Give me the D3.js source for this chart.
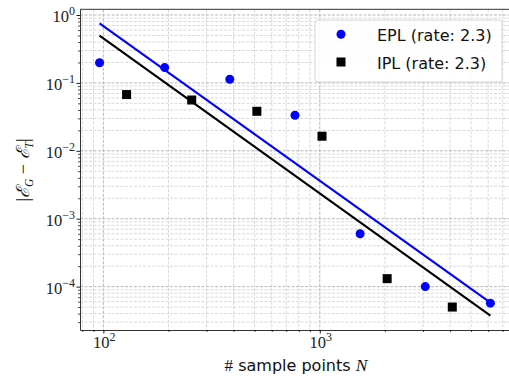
<!DOCTYPE html>
<html>
<head>
<meta charset="utf-8">
<script src="https://cdn.jsdelivr.net/npm/d3@7"></script>
<style>
  html, body { margin: 0; padding: 0; background: #fff; }
  svg { display: block; }
  .tick-label { font-family: "Liberation Serif", "DejaVu Serif", serif; fill: #222; }
</style>
</head>
<body>
<svg id="chart" width="509" height="376"></svg>
<script>
// Sample counts and errors for each scheme
const nEPL = [96, 192, 384, 768, 1536, 3072, 6144];
const errEPL = [0.198, 0.168, 0.113, 0.0334, 6.0e-4, 1.0e-4, 5.7e-5];
const nIPL = [128, 256, 512, 1024, 2048, 4096];
const errIPL = [0.0673, 0.056, 0.0382, 0.0164, 1.31e-4, 5.0e-5];

// Fitted convergence lines (endpoints)
const fitN = [96, 6144];
const fitEPL = [0.755, 5.8e-5];
const fitIPL = [0.496, 3.73e-5];

const legendLabels = ["EPL (rate: 2.3)", "IPL (rate: 2.3)"];
const xMajor = [1e2, 1e3];
const yMajor = [1e0, 1e-1, 1e-2, 1e-3, 1e-4];

const svg = d3.select("#chart");
const pLeft = 80, pRight = 510, pTop = 9.3, pBottom = 330;

const x = d3.scaleLog().domain([Math.pow(10, 1.892), Math.pow(10, 3.879)]).range([pLeft, pRight]);
const y = d3.scaleLog().domain([Math.pow(10, -4.639), Math.pow(10, 0.084)]).range([pBottom, pTop]);

const isMajor = v => Math.abs(Math.log10(v) - Math.round(Math.log10(v))) < 1e-9;

// grid lines
const grid = svg.append("g");
const xt = x.ticks(), yt = y.ticks();
grid.selectAll("line.gx").data(xt).join("line")
  .attr("x1", d => x(d)).attr("x2", d => x(d))
  .attr("y1", pTop).attr("y2", pBottom)
  .attr("stroke", d => isMajor(d) ? "#b0b0b0" : "#c8c8c8")
  .attr("stroke-width", d => isMajor(d) ? 0.9 : 0.7)
  .attr("stroke-dasharray", "3,1.5");
grid.selectAll("line.gy").data(yt).join("line")
  .attr("y1", d => y(d)).attr("y2", d => y(d))
  .attr("x1", pLeft).attr("x2", pRight)
  .attr("stroke", d => isMajor(d) ? "#b0b0b0" : "#c8c8c8")
  .attr("stroke-width", d => isMajor(d) ? 0.9 : 0.7)
  .attr("stroke-dasharray", "3,1.5");

// axes
const xAxis = svg.append("g").attr("transform", `translate(0,${pBottom})`)
  .call(d3.axisBottom(x).tickValues(xt).tickFormat("").tickSizeOuter(0));
xAxis.selectAll(".tick line").attr("y2", d => isMajor(d) ? 3.5 : 2).attr("stroke", "#000").attr("stroke-width", d => isMajor(d) ? 0.9 : 0.7);
xAxis.select(".domain").attr("stroke", "#333").attr("stroke-width", 1);

const yAxis = svg.append("g").attr("transform", `translate(${pLeft},0)`)
  .call(d3.axisLeft(y).tickValues(yt).tickFormat("").tickSizeOuter(0));
yAxis.selectAll(".tick line").attr("x2", d => isMajor(d) ? -3.5 : -2).attr("stroke", "#000").attr("stroke-width", d => isMajor(d) ? 0.9 : 0.7);
yAxis.select(".domain").attr("stroke", "#333").attr("stroke-width", 1);

// top spine
svg.append("line").attr("x1", pLeft).attr("x2", pRight).attr("y1", pTop).attr("y2", pTop)
  .attr("stroke", "#333").attr("stroke-width", 1);

// tick labels as powers of ten
function power(sel, v) {
  const e = Math.round(Math.log10(v));
  sel.append("tspan").text("10").attr("font-size", 16.5);
  sel.append("tspan").text(e < 0 ? "\u2212" + (-e) : String(e))
    .attr("font-size", 12).attr("dy", -7);
}
xMajor.forEach(v => {
  svg.append("text").attr("class", "tick-label")
    .attr("x", x(v) + 1).attr("y", 348).attr("text-anchor", "middle")
    .call(power, v);
});
yMajor.forEach(v => {
  svg.append("text").attr("class", "tick-label")
    .attr("x", 75).attr("y", y(v) + 7).attr("text-anchor", "end")
    .call(power, v);
});

// fitted lines
const line = d3.line().x(d => x(d[0])).y(d => y(d[1]));
svg.append("path").datum(fitN.map((n, i) => [n, fitEPL[i]]))
  .attr("d", line).attr("stroke", "#0000ff").attr("stroke-width", 2.1).attr("fill", "none");
svg.append("path").datum(fitN.map((n, i) => [n, fitIPL[i]]))
  .attr("d", line).attr("stroke", "#000").attr("stroke-width", 2.1).attr("fill", "none");

// markers
svg.append("g").selectAll("circle").data(nEPL.map((n, i) => [n, errEPL[i]])).join("circle")
  .attr("cx", d => x(d[0])).attr("cy", d => y(d[1])).attr("r", 4.5).attr("fill", "#0000ff");
const sq = 9;
svg.append("g").selectAll("rect").data(nIPL.map((n, i) => [n, errIPL[i]])).join("rect")
  .attr("x", d => x(d[0]) - sq / 2).attr("y", d => y(d[1]) - sq / 2)
  .attr("width", sq).attr("height", sq).attr("fill", "#000");

// legend
const lg = svg.append("g");
lg.append("rect").attr("x", 315).attr("y", 20).attr("width", 187).attr("height", 62)
  .attr("rx", 3).attr("fill", "#fff").attr("fill-opacity", 0.85)
  .attr("stroke", "#d6d6d6").attr("stroke-width", 1);
lg.append("circle").attr("cx", 341).attr("cy", 34.3).attr("r", 4.5).attr("fill", "#0000ff");
lg.append("rect").attr("x", 341 - 4.5).attr("y", 62 - 4.5).attr("width", 9).attr("height", 9).attr("fill", "#000");
legendLabels.forEach((t, i) => {
  lg.append("text").attr("x", 377).attr("y", [40.5, 68.5][i])
    .attr("font-family", "'DejaVu Sans', sans-serif")
    .attr("font-size", 16).attr("fill", "#111").text(t);
});

// axis titles
const xl = svg.append("text").attr("x", 296).attr("y", 371).attr("text-anchor", "middle").attr("fill", "#111");
xl.append("tspan").attr("font-family", "'Liberation Serif', serif").attr("font-size", 17).text("#");
xl.append("tspan").attr("font-family", "'DejaVu Sans', sans-serif").attr("font-size", 16).text(" sample points ");
xl.append("tspan").attr("font-family", "'Liberation Serif', serif").attr("font-style", "italic").attr("font-size", 17.5).text("N");

const yl = svg.append("text").attr("transform", "translate(29,170) rotate(-90)")
  .attr("text-anchor", "middle").attr("fill", "#111")
  .attr("font-family", "'Liberation Serif', 'DejaVu Serif', serif").attr("font-size", 18);
yl.append("tspan").text("|");
yl.append("tspan").text("\u2130").attr("font-style", "italic");
yl.append("tspan").text("G").attr("font-size", 11.5).attr("font-style", "italic").attr("dy", 4);
yl.append("tspan").text(" \u2212 ").attr("dy", -4);
yl.append("tspan").text("\u2130").attr("font-style", "italic");
yl.append("tspan").text("T").attr("font-size", 11.5).attr("font-style", "italic").attr("dy", 4);
yl.append("tspan").text("|").attr("dy", -4);
</script>
</body>
</html>
